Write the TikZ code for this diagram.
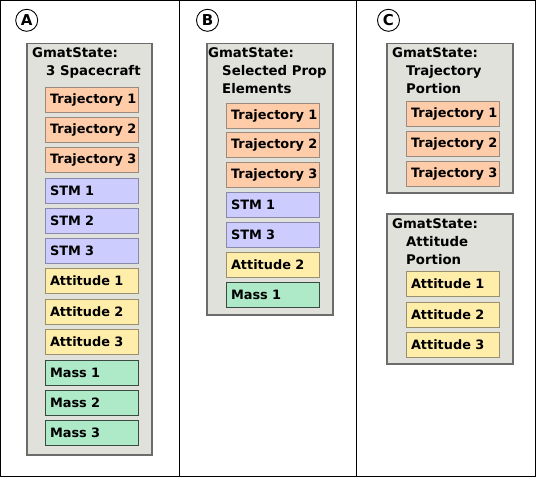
\documentclass[tikz,border=0pt]{standalone}
\usepackage{fontspec}
\setmainfont{DejaVu Sans}
\begin{document}
\begin{tikzpicture}[x=1pt,y=-1pt,
  every node/.style={font=\bfseries\fontsize{12.9}{15}\selectfont},
  panel/.style={draw=black,line width=1pt},
  tag/.style={draw=black,circle,line width=0.9pt,minimum size=22pt,inner sep=0pt,font=\bfseries\fontsize{15}{17}\selectfont},
  cont/.style={draw=gray!85!black,fill=ctfill,line width=1.1pt},
  hdr/.style={anchor=base west,inner sep=0pt,font=\bfseries\fontsize{13.3}{15}\selectfont},
  item/.style={anchor=north west,minimum width=93pt,minimum height=25pt,text width=85pt,inner xsep=4pt,inner ysep=0pt,align=left,line width=1pt,execute at begin node={\hspace*{0.5pt}}},
  traj/.style={item,fill=trfill,draw=trdraw},
  stm/.style={item,fill=stfill,draw=stdraw},
  att/.style={item,fill=atfill,draw=atdraw},
  mass/.style={item,fill=msfill,draw=msdraw}
]
\definecolor{ctfill}{HTML}{E0E1DA}
\definecolor{trfill}{HTML}{FFCCA9}
\definecolor{trdraw}{HTML}{9A8A80}
\definecolor{stfill}{HTML}{CCCCFF}
\definecolor{stdraw}{HTML}{8A8AA8}
\definecolor{atfill}{HTML}{FFEEAA}
\definecolor{atdraw}{HTML}{9A9070}
\definecolor{msfill}{HTML}{AEE9C8}
\definecolor{msdraw}{HTML}{3A4A40}
\useasboundingbox (0,0) rectangle (536,477);
\fill[white] (0,0) rectangle (536,477);
% frame and dividers
\draw[panel,line width=1.4pt] (0.7,0.7) rectangle (535.3,476.3);
\coordinate (d1t) at (179.5,0.7); \coordinate (d1b) at (179.5,476.3);
\coordinate (d2t) at (356.5,0.7); \coordinate (d2b) at (356.5,476.3);
\draw[panel] (d1t) -- (d1b);
\draw[panel] (d2t) -- (d2b);
% tags
\node[tag] (tA) at (26.7,20.3) {A};
\node[tag] (tB) at (207.5,20.3) {B};
\node[tag] (tC) at (388.5,20.3) {C};
% Panel A
\draw[cont] (27,43.5) rectangle (152,455);
\node[hdr] (hA1) at (32,57.5) {GmatState:};
\node[hdr] (hA2) at (46,75) {3 Spacecraft};
\node[traj] (a1) at (45,87) {\mbox{Trajectory 1}};
\node[traj] (a2) at (45,117) {\mbox{Trajectory 2}};
\node[traj] (a3) at (45,147) {\mbox{Trajectory 3}};
\node[stm] (a4) at (45,178) {STM 1};
\node[stm] (a5) at (45,208) {STM 2};
\node[stm] (a6) at (45,238) {STM 3};
\node[att] (a7) at (45,268) {Attitude 1};
\node[att] (a8) at (45,298.5) {Attitude 2};
\node[att] (a9) at (45,329) {Attitude 3};
\node[mass] (a10) at (45,359.5) {Mass 1};
\node[mass] (a11) at (45,389.5) {Mass 2};
\node[mass] (a12) at (45,419.5) {Mass 3};
% Panel B
\draw[cont] (207,43.5) rectangle (333,315);
\node[hdr] (hB1) at (208,57.5) {GmatState:};
\node[hdr] (hB2) at (222,75) {Selected Prop};
\node[hdr] (hB3) at (222,93) {Elements};
\node[traj] (b1) at (226,102.5) {\mbox{Trajectory 1}};
\node[traj] (b2) at (226,132) {\mbox{Trajectory 2}};
\node[traj] (b3) at (226,162) {\mbox{Trajectory 3}};
\node[stm] (b4) at (226,192) {STM 1};
\node[stm] (b5) at (226,222) {STM 3};
\node[att] (b6) at (226,252) {Attitude 2};
\node[mass] (b7) at (226,281.5) {Mass 1};
% Panel C
\draw[cont] (387,43.5) rectangle (513,193);
\node[hdr] (hC1) at (392,57.5) {GmatState:};
\node[hdr] (hC2) at (406,75) {Trajectory};
\node[hdr] (hC3) at (406,93) {Portion};
\node[traj] (c1) at (406,100.5) {\mbox{Trajectory 1}};
\node[traj] (c2) at (406,130.5) {\mbox{Trajectory 2}};
\node[traj] (c3) at (406,160.5) {\mbox{Trajectory 3}};
\draw[cont] (387,214) rectangle (513,364);
\node[hdr] (hD1) at (392,228) {GmatState:};
\node[hdr] (hD2) at (406,246) {Attitude};
\node[hdr] (hD3) at (406,264) {Portion};
\node[att] (d1) at (406,271) {Attitude 1};
\node[att] (d2) at (406,301.5) {Attitude 2};
\node[att] (d3) at (406,332) {Attitude 3};
\end{tikzpicture}
\end{document}
